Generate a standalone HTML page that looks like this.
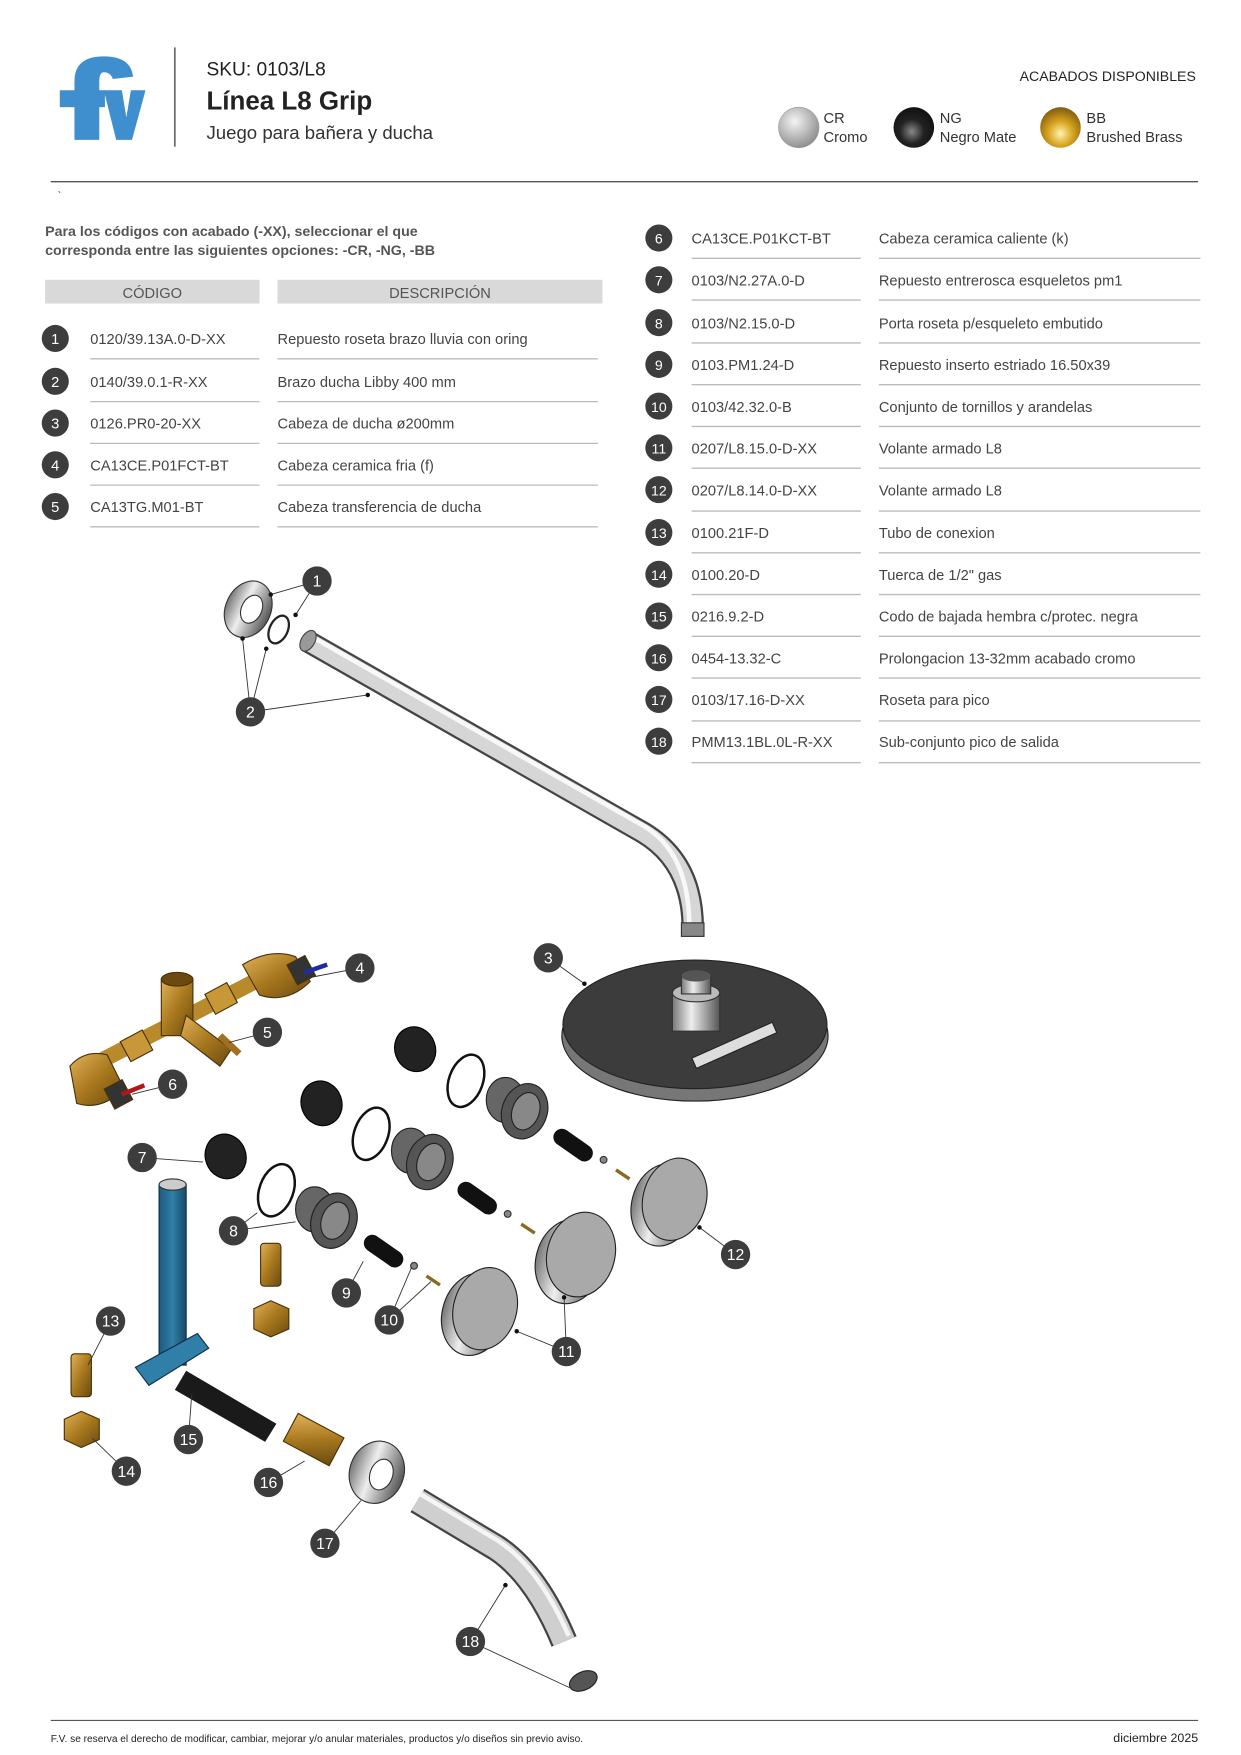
<!DOCTYPE html>
<html><head><meta charset="utf-8"><style>
html,body{margin:0;padding:0;background:#fff}
svg{display:block}
text{font-family:"Liberation Sans",sans-serif}
</style></head><body>
<svg width="1241" height="1755" viewBox="0 0 1100 1555.6" preserveAspectRatio="none" xmlns="http://www.w3.org/2000/svg">
<defs>
<linearGradient id="chrx" x1="0" y1="0" x2="1" y2="0"><stop offset="0" stop-color="#777"/><stop offset=".4" stop-color="#eee"/><stop offset="1" stop-color="#555"/></linearGradient>
<linearGradient id="brass" x1="0" y1="0" x2="1" y2="1"><stop offset="0" stop-color="#e0b25a"/><stop offset=".5" stop-color="#a8781e"/><stop offset="1" stop-color="#6a4a10"/></linearGradient>
<linearGradient id="blue" x1="0" y1="0" x2="1" y2="0"><stop offset="0" stop-color="#1e5a7e"/><stop offset=".5" stop-color="#2f7fa8"/><stop offset="1" stop-color="#174a68"/></linearGradient>
<radialGradient id="gcr" cx=".4" cy=".35" r=".7"><stop offset="0" stop-color="#f4f4f4"/><stop offset="1" stop-color="#8a8a8a"/></radialGradient>
<radialGradient id="gng" cx=".45" cy=".6" r=".6"><stop offset="0" stop-color="#888"/><stop offset=".5" stop-color="#222"/><stop offset="1" stop-color="#111"/></radialGradient>
<radialGradient id="gbb" cx=".5" cy=".65" r=".6"><stop offset="0" stop-color="#fff3b0"/><stop offset=".5" stop-color="#d9a520"/><stop offset="1" stop-color="#8a6410"/></radialGradient>
</defs>

<!-- Header -->
<g fill="#3f8fcf">
<path d="M66 124 V72 Q66 50 92 50 Q116 50 118 68 L100 70 Q98 64 92 64 Q88 64 88 72 V124 Z"/>
<rect x="53" y="80" width="40" height="15"/>
<path d="M92 80 H108 L112 104 L116 80 H129 L117 124 H103 Z"/>
</g>
<line x1="155" y1="42" x2="155" y2="130" stroke="#444" stroke-width="1.2"/>
<text x="183" y="67" font-size="17" fill="#222">SKU: 0103/L8</text>
<text x="183" y="97" font-size="23" font-weight="bold" fill="#222">Línea L8 Grip</text>
<text x="183" y="123" font-size="16.5" fill="#333">Juego para bañera y ducha</text>
<text x="1060" y="72" font-size="12.5" fill="#222" text-anchor="end">ACABADOS DISPONIBLES</text>
<circle cx="708" cy="113" r="18" fill="url(#gcr)" stroke="#999" stroke-width=".5"/>
<text x="730" y="109" font-size="13" fill="#333">CR</text><text x="730" y="126" font-size="13" fill="#333">Cromo</text>
<circle cx="810" cy="113" r="18" fill="url(#gng)"/>
<text x="833" y="109" font-size="13" fill="#333">NG</text><text x="833" y="126" font-size="13" fill="#333">Negro Mate</text>
<circle cx="940" cy="113" r="18" fill="url(#gbb)"/>
<text x="963" y="109" font-size="13" fill="#333">BB</text><text x="963" y="126" font-size="13" fill="#333">Brushed Brass</text>
<line x1="45" y1="161" x2="1062" y2="161" stroke="#555" stroke-width="1.2"/>
<text x="51" y="177" font-size="10" fill="#444">`</text>

<text x="40" y="209" font-size="12.6" font-weight="bold" fill="#555">Para los códigos con acabado (-XX), seleccionar el que</text>
<text x="40" y="226" font-size="12.6" font-weight="bold" fill="#555">corresponda entre las siguientes opciones: -CR, -NG, -BB</text>
<rect x="40" y="248" width="190" height="21" fill="#d9d9d9"/>
<rect x="246" y="248" width="288" height="21" fill="#d9d9d9"/>
<text x="135" y="264" font-size="13" fill="#555" text-anchor="middle">CÓDIGO</text>
<text x="390" y="264" font-size="13" fill="#555" text-anchor="middle">DESCRIPCIÓN</text>

<g stroke="#bbb" stroke-width="1.2">
<line x1="80" y1="318" x2="230" y2="318"/><line x1="246" y1="318" x2="530" y2="318"/>
<line x1="80" y1="356" x2="230" y2="356"/><line x1="246" y1="356" x2="530" y2="356"/>
<line x1="80" y1="393" x2="230" y2="393"/><line x1="246" y1="393" x2="530" y2="393"/>
<line x1="80" y1="430" x2="230" y2="430"/><line x1="246" y1="430" x2="530" y2="430"/>
<line x1="80" y1="467" x2="230" y2="467"/><line x1="246" y1="467" x2="530" y2="467"/>
</g>
<g fill="#3d3d3d"><circle cx="49" cy="300" r="12"/><circle cx="49" cy="338" r="12"/><circle cx="49" cy="375" r="12"/><circle cx="49" cy="412" r="12"/><circle cx="49" cy="449" r="12"/></g>
<g fill="#fff" font-size="13" text-anchor="middle"><text x="49" y="305">1</text><text x="49" y="343">2</text><text x="49" y="380">3</text><text x="49" y="417">4</text><text x="49" y="454">5</text></g>
<g font-size="13" fill="#444">
<text x="80" y="305">0120/39.13A.0-D-XX</text><text x="246" y="305">Repuesto roseta brazo lluvia con oring</text>
<text x="80" y="343">0140/39.0.1-R-XX</text><text x="246" y="343">Brazo ducha Libby 400 mm</text>
<text x="80" y="380">0126.PR0-20-XX</text><text x="246" y="380">Cabeza de ducha ø200mm</text>
<text x="80" y="417">CA13CE.P01FCT-BT</text><text x="246" y="417">Cabeza ceramica fria (f)</text>
<text x="80" y="454">CA13TG.M01-BT</text><text x="246" y="454">Cabeza transferencia de ducha</text>
</g>

<!-- right rows -->
<g stroke="#bbb" stroke-width="1.2">
<line x1="613" y1="229" x2="763" y2="229"/><line x1="779" y1="229" x2="1064" y2="229"/>
<line x1="613" y1="266" x2="763" y2="266"/><line x1="779" y1="266" x2="1064" y2="266"/>
<line x1="613" y1="304" x2="763" y2="304"/><line x1="779" y1="304" x2="1064" y2="304"/>
<line x1="613" y1="341" x2="763" y2="341"/><line x1="779" y1="341" x2="1064" y2="341"/>
<line x1="613" y1="378" x2="763" y2="378"/><line x1="779" y1="378" x2="1064" y2="378"/>
<line x1="613" y1="415" x2="763" y2="415"/><line x1="779" y1="415" x2="1064" y2="415"/>
<line x1="613" y1="453" x2="763" y2="453"/><line x1="779" y1="453" x2="1064" y2="453"/>
<line x1="613" y1="490" x2="763" y2="490"/><line x1="779" y1="490" x2="1064" y2="490"/>
<line x1="613" y1="527" x2="763" y2="527"/><line x1="779" y1="527" x2="1064" y2="527"/>
<line x1="613" y1="564" x2="763" y2="564"/><line x1="779" y1="564" x2="1064" y2="564"/>
<line x1="613" y1="601" x2="763" y2="601"/><line x1="779" y1="601" x2="1064" y2="601"/>
<line x1="613" y1="639" x2="763" y2="639"/><line x1="779" y1="639" x2="1064" y2="639"/>
<line x1="613" y1="676" x2="763" y2="676"/><line x1="779" y1="676" x2="1064" y2="676"/>
</g>
<g fill="#3d3d3d">
<circle cx="584" cy="211" r="12"/><circle cx="584" cy="248" r="12"/><circle cx="584" cy="286" r="12"/><circle cx="584" cy="323" r="12"/><circle cx="584" cy="360" r="12"/><circle cx="584" cy="397" r="12"/><circle cx="584" cy="434" r="12"/><circle cx="584" cy="472" r="12"/><circle cx="584" cy="509" r="12"/><circle cx="584" cy="546" r="12"/><circle cx="584" cy="583" r="12"/><circle cx="584" cy="620" r="12"/><circle cx="584" cy="657" r="12"/>
</g>
<g fill="#fff" font-size="12.5" text-anchor="middle">
<text x="584" y="216">6</text><text x="584" y="253">7</text><text x="584" y="291">8</text><text x="584" y="328">9</text><text x="584" y="365">10</text><text x="584" y="402">11</text><text x="584" y="439">12</text><text x="584" y="477">13</text><text x="584" y="514">14</text><text x="584" y="551">15</text><text x="584" y="588">16</text><text x="584" y="625">17</text><text x="584" y="662">18</text>
</g>
<g font-size="13" fill="#444">
<text x="613" y="216">CA13CE.P01KCT-BT</text><text x="779" y="216">Cabeza ceramica caliente (k)</text>
<text x="613" y="253">0103/N2.27A.0-D</text><text x="779" y="253">Repuesto entrerosca esqueletos pm1</text>
<text x="613" y="291">0103/N2.15.0-D</text><text x="779" y="291">Porta roseta p/esqueleto embutido</text>
<text x="613" y="328">0103.PM1.24-D</text><text x="779" y="328">Repuesto inserto estriado 16.50x39</text>
<text x="613" y="365">0103/42.32.0-B</text><text x="779" y="365">Conjunto de tornillos y arandelas</text>
<text x="613" y="402">0207/L8.15.0-D-XX</text><text x="779" y="402">Volante armado L8</text>
<text x="613" y="439">0207/L8.14.0-D-XX</text><text x="779" y="439">Volante armado L8</text>
<text x="613" y="477">0100.21F-D</text><text x="779" y="477">Tubo de conexion</text>
<text x="613" y="514">0100.20-D</text><text x="779" y="514">Tuerca de 1/2" gas</text>
<text x="613" y="551">0216.9.2-D</text><text x="779" y="551">Codo de bajada hembra c/protec. negra</text>
<text x="613" y="588">0454-13.32-C</text><text x="779" y="588">Prolongacion 13-32mm acabado cromo</text>
<text x="613" y="625">0103/17.16-D-XX</text><text x="779" y="625">Roseta para pico</text>
<text x="613" y="662">PMM13.1BL.0L-R-XX</text><text x="779" y="662">Sub-conjunto pico de salida</text>
</g>

<!-- DIAGRAM -->
<path d="M272 568 L570 738 Q615 765 614 825" fill="none" stroke="#444" stroke-width="20"/>
<path d="M272 568 L570 738 Q615 765 614 825" fill="none" stroke="#d6d6d6" stroke-width="16"/>
<path d="M274 563 L572 733 Q612 758 611 825" fill="none" stroke="#f8f8f8" stroke-width="4"/>
<ellipse cx="273" cy="568" rx="6" ry="10" transform="rotate(30 273 568)" fill="#999" stroke="#444"/>
<rect x="604" y="818" width="20" height="12" fill="#888" stroke="#333"/>
<ellipse cx="220" cy="540" rx="20" ry="26" transform="rotate(25 220 540)" fill="url(#chrx)" stroke="#333"/>
<ellipse cx="223" cy="540" rx="9" ry="13" transform="rotate(25 223 540)" fill="#fff" stroke="#333"/>
<ellipse cx="247" cy="558" rx="8" ry="13" transform="rotate(25 247 558)" fill="none" stroke="#222" stroke-width="2"/>
<ellipse cx="616" cy="918" rx="118" ry="58" fill="#777" stroke="#222"/>
<ellipse cx="616" cy="908" rx="117" ry="57" fill="#3c3c3c" stroke="#222"/>
<rect x="596" y="880" width="42" height="34" fill="url(#chrx)" stroke="#333"/>
<ellipse cx="617" cy="880" rx="21" ry="8" fill="#bbb" stroke="#333"/>
<rect x="604" y="865" width="26" height="16" fill="url(#chrx)" stroke="#333"/>
<ellipse cx="617" cy="865" rx="13" ry="5" fill="#555"/>
<rect x="612" y="922" width="78" height="10" fill="#ddd" stroke="#222" transform="rotate(-24 650 927)"/>

<g stroke="#4a3208" stroke-width="1">
<path d="M90 940 L255 855" stroke="#b88a2c" stroke-width="14" fill="none"/>
<rect x="143" y="868" width="28" height="50" fill="url(#brass)"/>
<ellipse cx="157" cy="868" rx="14" ry="6" fill="#6a4a10"/>
<path d="M165 900 L205 930 L195 945 L160 918Z" fill="url(#brass)"/>
<rect x="185" y="875" width="22" height="20" fill="#c89838" transform="rotate(-28 196 885)"/>
<rect x="110" y="917" width="22" height="20" fill="#c89838" transform="rotate(-28 121 927)"/>
<path d="M215 855 Q240 840 262 848 L275 870 Q255 890 230 882Z" fill="url(#brass)"/>
<path d="M62 945 Q75 930 95 935 L110 965 Q90 985 68 978Z" fill="url(#brass)"/>
<rect x="258" y="850" width="18" height="20" fill="#333" transform="rotate(-28 267 860)"/>
<rect x="96" y="960" width="18" height="20" fill="#333" transform="rotate(-28 105 970)"/>
<path d="M270 862 L290 855" stroke="#1e2ea0" stroke-width="4"/>
<path d="M108 970 L128 962" stroke="#b01818" stroke-width="4"/>
<path d="M195 918 L212 934" stroke="#a07020" stroke-width="6"/>
</g>
<g fill="#222" stroke="#000">
<ellipse cx="368" cy="930" rx="18" ry="20" transform="rotate(-20 368 930)"/>
<ellipse cx="285" cy="978" rx="18" ry="20" transform="rotate(-20 285 978)"/>
<ellipse cx="200" cy="1025" rx="18" ry="20" transform="rotate(-20 200 1025)"/>
</g>
<g fill="none" stroke="#111" stroke-width="2.2">
<ellipse cx="413" cy="958" rx="15" ry="24" transform="rotate(20 413 958)"/>
<ellipse cx="329" cy="1005" rx="15" ry="24" transform="rotate(20 329 1005)"/>
<ellipse cx="245" cy="1055" rx="15" ry="24" transform="rotate(20 245 1055)"/>
</g>
<g stroke="#222">
<ellipse cx="448" cy="975" rx="17" ry="20" fill="#666"/>
<ellipse cx="465" cy="985" rx="20" ry="25" transform="rotate(20 465 985)" fill="#555"/>
<ellipse cx="466" cy="985" rx="12" ry="17" transform="rotate(20 466 985)" fill="#888"/>
<ellipse cx="364" cy="1020" rx="17" ry="20" fill="#666"/>
<ellipse cx="381" cy="1030" rx="20" ry="25" transform="rotate(20 381 1030)" fill="#555"/>
<ellipse cx="382" cy="1030" rx="12" ry="17" transform="rotate(20 382 1030)" fill="#888"/>
<ellipse cx="279" cy="1072" rx="17" ry="20" fill="#666"/>
<ellipse cx="296" cy="1082" rx="20" ry="25" transform="rotate(20 296 1082)" fill="#555"/>
<ellipse cx="297" cy="1082" rx="12" ry="17" transform="rotate(20 297 1082)" fill="#888"/>
</g>
<g stroke="#111" stroke-width="15" stroke-linecap="round">
<line x1="498" y1="1008" x2="518" y2="1022"/>
<line x1="413" y1="1055" x2="433" y2="1069"/>
<line x1="330" y1="1102" x2="350" y2="1116"/>
</g>
<g fill="#888" stroke="#333"><circle cx="535" cy="1028" r="3"/><circle cx="450" cy="1076" r="3"/><circle cx="367" cy="1122" r="3"/></g>
<g stroke="#8a6a20" stroke-width="3"><line x1="546" y1="1037" x2="558" y2="1045"/><line x1="462" y1="1085" x2="474" y2="1093"/><line x1="378" y1="1131" x2="390" y2="1139"/></g>
<g stroke="#222">
<ellipse cx="420" cy="1165" rx="28" ry="37" transform="rotate(15 420 1165)" fill="url(#chrx)"/>
<ellipse cx="430" cy="1160" rx="28" ry="37" transform="rotate(15 430 1160)" fill="#a9a9a9"/>
<ellipse cx="505" cy="1118" rx="30" ry="38" transform="rotate(15 505 1118)" fill="url(#chrx)"/>
<ellipse cx="515" cy="1112" rx="30" ry="38" transform="rotate(15 515 1112)" fill="#a9a9a9"/>
<ellipse cx="588" cy="1068" rx="28" ry="37" transform="rotate(15 588 1068)" fill="url(#chrx)"/>
<ellipse cx="598" cy="1063" rx="28" ry="37" transform="rotate(15 598 1063)" fill="#a9a9a9"/>
</g>
<g stroke="#4a3208">
<rect x="231" y="1102" width="18" height="38" rx="3" fill="url(#brass)"/>
<path d="M225 1160 L240 1153 L256 1160 L256 1178 L240 1185 L225 1178Z" fill="url(#brass)"/>
<rect x="63" y="1200" width="18" height="38" rx="3" fill="url(#brass)"/>
<path d="M57 1258 L72 1251 L88 1258 L88 1276 L72 1283 L57 1276Z" fill="url(#brass)"/>
<rect x="255" y="1262" width="46" height="28" fill="url(#brass)" transform="rotate(28 278 1276)"/>
</g>
<rect x="141" y="1050" width="24" height="160" fill="url(#blue)" stroke="#0e3048"/>
<ellipse cx="153" cy="1050" rx="12" ry="5" fill="#ccc" stroke="#333"/>
<path d="M120 1212 L175 1182 L185 1195 L132 1228Z" fill="#2f7fa8" stroke="#0e3048"/>
<path d="M165 1215 L245 1262 L235 1278 L155 1232Z" fill="#1a1a1a"/>
<ellipse cx="334" cy="1305" rx="24" ry="28" transform="rotate(20 334 1305)" fill="url(#chrx)" stroke="#333"/>
<ellipse cx="338" cy="1307" rx="10" ry="14" transform="rotate(20 338 1307)" fill="#fff" stroke="#333"/>
<path d="M370 1330 L440 1372 Q475 1395 500 1455" fill="none" stroke="#444" stroke-width="24"/>
<path d="M370 1330 L440 1372 Q475 1395 500 1455" fill="none" stroke="#cfcfcf" stroke-width="20"/>
<path d="M372 1324 L442 1366 Q478 1390 504 1450" fill="none" stroke="#f5f5f5" stroke-width="4"/>
<ellipse cx="517" cy="1490" rx="13" ry="8" transform="rotate(-25 517 1490)" fill="#555" stroke="#222"/>

<g stroke="#333" stroke-width=".8" fill="none">
<path d="M281 515 L240 527 M281 515 L262 545"/>
<path d="M222 631 L215 566 M222 631 L236 575 M222 631 L326 616"/>
<path d="M486 849 L518 872"/>
<path d="M319 858 L277 866 M237 915 L203 924 M153 961 L117 970"/>
<path d="M126 1026 L180 1030 M207 1091 L228 1075 M207 1091 L262 1083"/>
<path d="M307 1146 L322 1118 M345 1170 L365 1123 M345 1170 L382 1136"/>
<path d="M502 1198 L458 1180 M502 1198 L500 1150 M652 1112 L620 1088"/>
<path d="M98 1171 L78 1210 M112 1304 L82 1275 M167 1276 L170 1235 M238 1314 L270 1295 M288 1368 L320 1330 M417 1455 L448 1405 M417 1455 L505 1496"/>
</g>
<g fill="#111"><circle cx="240" cy="527" r="2"/><circle cx="262" cy="545" r="2"/><circle cx="215" cy="566" r="2"/><circle cx="236" cy="575" r="2"/><circle cx="326" cy="616" r="2"/><circle cx="518" cy="872" r="2"/><circle cx="620" cy="1088" r="2"/><circle cx="458" cy="1180" r="2"/><circle cx="500" cy="1150" r="2"/><circle cx="448" cy="1405" r="2"/></g>
<g fill="#3d3d3d">
<circle cx="281" cy="515" r="13"/><circle cx="222" cy="631" r="13"/><circle cx="486" cy="849" r="13"/><circle cx="319" cy="858" r="13"/><circle cx="237" cy="915" r="13"/><circle cx="153" cy="961" r="13"/><circle cx="126" cy="1026" r="13"/><circle cx="207" cy="1091" r="13"/><circle cx="307" cy="1146" r="13"/><circle cx="345" cy="1170" r="13"/><circle cx="502" cy="1198" r="13"/><circle cx="652" cy="1112" r="13"/><circle cx="98" cy="1171" r="13"/><circle cx="112" cy="1304" r="13"/><circle cx="167" cy="1276" r="13"/><circle cx="238" cy="1314" r="13"/><circle cx="288" cy="1368" r="13"/><circle cx="417" cy="1455" r="13"/>
</g>
<g fill="#fff" font-size="14" text-anchor="middle">
<text x="281" y="520">1</text><text x="222" y="636">2</text><text x="486" y="854">3</text><text x="319" y="863">4</text><text x="237" y="920">5</text><text x="153" y="966">6</text><text x="126" y="1031">7</text><text x="207" y="1096">8</text><text x="307" y="1151">9</text><text x="345" y="1175">10</text><text x="502" y="1203">11</text><text x="652" y="1117">12</text><text x="98" y="1176">13</text><text x="112" y="1309">14</text><text x="167" y="1281">15</text><text x="238" y="1319">16</text><text x="288" y="1373">17</text><text x="417" y="1460">18</text>
</g>

<line x1="45" y1="1525" x2="1062" y2="1525" stroke="#555" stroke-width="1"/>
<text x="45" y="1544" font-size="9" fill="#222">F.V. se reserva el derecho de modificar, cambiar, mejorar y/o anular materiales, productos y/o diseños sin previo aviso.</text>
<text x="1062" y="1544" font-size="11" fill="#222" text-anchor="end">diciembre 2025</text>
</svg>
</body></html>
